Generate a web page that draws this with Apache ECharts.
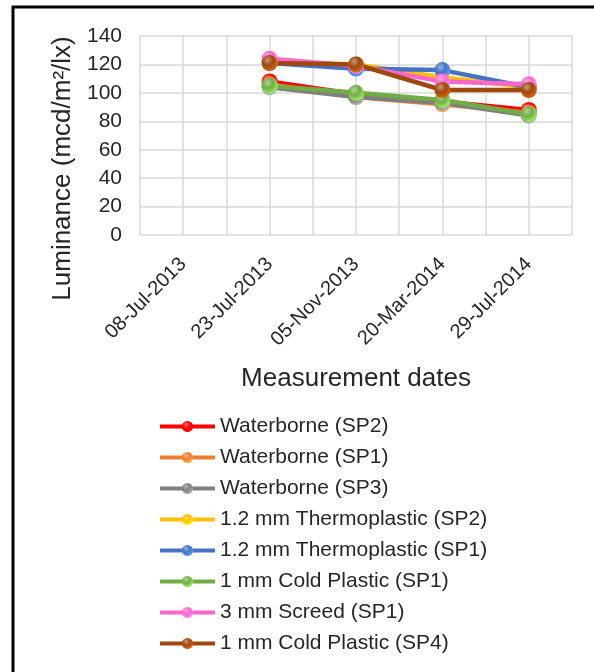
<!DOCTYPE html>
<html>
<head>
<meta charset="utf-8">
<script src="https://cdn.jsdelivr.net/npm/echarts@6/dist/echarts.min.js"></script>
<style>
  html, body { margin: 0; padding: 0; background: #fff; }
  #chart { width: 594px; height: 672px; }
</style>
</head>
<body>
<div id="chart"></div>
<script>
// measurement dates (x categories)
const dates = ['08-Jul-2013', '23-Jul-2013', '05-Nov-2013', '20-Mar-2014', '29-Jul-2014'];
const yTicks = [0, 20, 40, 60, 80, 100, 120, 140];

// luminance values per marking (first date has no readings)
const waterborneSP2 = [null, 108, 99, 94, 88];
const waterborneSP1 = [null, 106, 97, 92, 86];
const waterborneSP3 = [null, 104, 97, 93, 84];
const thermoSP2 = [null, 122, 120, 111, 104];
const thermoSP1 = [null, 121, 117, 116, 104];
const coldSP1 = [null, 105, 100, 95, 85];
const screedSP1 = [null, 124, 119, 108, 106];
const coldSP4 = [null, 121, 120, 102, 102];

const seriesDefs = [
    ['Waterborne (SP2)', waterborneSP2, '#ff0000'],
    ['Waterborne (SP1)', waterborneSP1, '#ed7d31'],
    ['Waterborne (SP3)', waterborneSP3, '#7f7f7f'],
    ['1.2 mm Thermoplastic (SP2)', thermoSP2, '#ffc000'],
    ['1.2 mm Thermoplastic (SP1)', thermoSP1, '#4472c4'],
    ['1 mm Cold Plastic (SP1)', coldSP1, '#70ad47'],
    ['3 mm Screed (SP1)', screedSP1, '#ff66cc'],
    ['1 mm Cold Plastic (SP4)', coldSP4, '#9e480e']
];

// shaded ball marker, like the office "3D" markers
function ball(c) {
    return new echarts.graphic.RadialGradient(0.38, 0.32, 0.75, [
        { offset: 0, color: echarts.color.lift(c, 0.45) },
        { offset: 0.45, color: c },
        { offset: 1, color: echarts.color.lift(c, -0.45) }
    ]);
}

const textColor = '#262626';
const font = 'Liberation Sans, Arial, sans-serif';

const chart = echarts.init(document.getElementById('chart'));

chart.setOption({
    animation: false,
    textStyle: { fontFamily: font },
    graphic: [{
        type: 'rect',
        shape: { x: 13, y: 7, width: 700, height: 800 },
        style: { fill: 'none', stroke: '#000', lineWidth: 3 }
    }],
    grid: { left: 140, right: 22, top: 36, bottom: 437 },
    legend: {
        orient: 'vertical',
        left: 153,
        top: 411,
        height: 262,
        itemWidth: 55,
        itemHeight: 14,
        itemGap: 10,
        lineStyle: { width: 4 },
        textStyle: { fontSize: 21, color: textColor, fontFamily: font },
        data: seriesDefs.map(d => d[0])
    },
    xAxis: [{
        type: 'category',
        data: dates,
        boundaryGap: true,
        name: 'Measurement dates',
        nameLocation: 'middle',
        nameGap: 131,
        nameTextStyle: { fontSize: 26, color: textColor },
        axisLine: { show: false },
        axisTick: { show: false },
        splitLine: { show: false },
        axisLabel: {
            rotate: 45,
            fontSize: 20,
            color: textColor,
            margin: 26
        }
    }, {
        // half-category grid lines
        type: 'category',
        data: ['', '', '', '', '', '', '', '', '', ''],
        boundaryGap: true,
        position: 'bottom',
        axisLine: { show: false },
        axisTick: { show: false },
        axisLabel: { show: false },
        splitLine: { show: true, lineStyle: { color: '#d9d9d9', width: 1.5 } }
    }],
    yAxis: {
        type: 'value',
        min: yTicks[0],
        max: yTicks[yTicks.length - 1],
        interval: 20,
        name: 'Luminance (mcd/m²/lx)',
        nameLocation: 'middle',
        nameGap: 57,
        nameTextStyle: { fontSize: 26, color: textColor, padding: [0, 66, 0, 0] },
        axisLine: { show: false },
        axisTick: { show: false },
        axisLabel: { fontSize: 21, color: textColor, margin: 18 },
        splitLine: { lineStyle: { color: '#d9d9d9', width: 1.5 } }
    },
    series: seriesDefs.map(([name, values, color]) => ({
        name: name,
        type: 'line',
        data: values,
        xAxisIndex: 0,
        symbol: 'circle',
        symbolSize: 16,
        lineStyle: { color: color, width: 4.5 },
        itemStyle: { color: ball(color), borderWidth: 0 },
        connectNulls: false
    }))
});
</script>
</body>
</html>
